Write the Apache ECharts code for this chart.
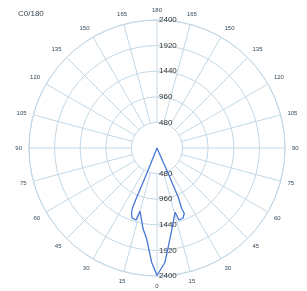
<!DOCTYPE html>
<html>
<head>
<meta charset="utf-8">
<script src="https://cdn.jsdelivr.net/npm/echarts@6/dist/echarts.min.js"></script>
<style>
html, body { margin: 0; padding: 0; background: #fff; }
#main { width: 307px; height: 291px; }
</style>
</head>
<body>
<div id="main"></div>
<script>
var chartTitle = 'C0/180';
var radiusMax = 2400;
var radiusStep = 480;
var angleStep = 15;
// angle from nadir (deg) and intensity, C0 half-plane (right side)
var c0Angles = [0, 4, 8.1, 10.5, 15.7, 17, 20.4, 22.6, 22.2, 23.4, 23.7, 30];
var c0Values = [2390, 2147, 1720, 1541, 1250, 1412, 1400, 1330, 1225, 1005, 528, 0];
// C180 half-plane (left side)
var c180Angles = [0, 2.7, 6.5, 9.8, 15.1, 16.3, 19.7, 21.3, 22.2, 22.4, 21.8, 30];
var c180Values = [2390, 2143, 1713, 1537, 1224, 1406, 1393, 1318, 1225, 998, 520, 0];

var gridColor = '#c2d7e5';
var lineColor = '#4677d6';
var center = [157, 148];
var outerR = 128;

var chart = echarts.init(document.getElementById('main'));

var c0Data = c0Angles.map(function (a, i) { return [c0Values[i], a]; });
var c180Data = c180Angles.map(function (a, i) { return [c180Values[i], 360 - a]; });

function plain(v) { return String(v); }

var option = {
    animation: false,
    title: {
        text: chartTitle,
        left: 13,
        top: 5,
        textStyle: { fontSize: 8, fontWeight: 'normal', color: '#3a4550', fontFamily: 'Liberation Sans' }
    },
    polar: [
        { center: center, radius: outerR },
        { center: center, radius: outerR },
        // spokes start at the first ring
        { center: center, radius: [outerR * radiusStep / radiusMax, outerR] }
    ],
    angleAxis: [{
        polarIndex: 0,
        type: 'value',
        min: 0,
        max: 360,
        interval: angleStep,
        startAngle: 270,
        clockwise: false,
        axisLine: { show: true, lineStyle: { color: gridColor, width: 1 } },
        axisTick: { show: false },
        splitLine: { show: false },
        axisLabel: {
            fontSize: 6,
            margin: 7,
            color: '#34495a',
            fontFamily: 'Liberation Sans',
            formatter: function (v) { return v <= 180 ? v : 360 - v; }
        }
    }, {
        polarIndex: 1,
        type: 'value',
        min: 0,
        max: 360,
        startAngle: 90,
        show: false
    }, {
        polarIndex: 2,
        type: 'value',
        min: 0,
        max: 360,
        interval: angleStep,
        startAngle: 270,
        axisLine: { show: false },
        axisTick: { show: false },
        axisLabel: { show: false },
        splitLine: { show: true, lineStyle: { color: gridColor, width: 1 } }
    }],
    radiusAxis: [{
        polarIndex: 0,
        min: 0,
        max: radiusMax,
        interval: radiusStep,
        axisLine: { show: false },
        axisTick: { show: false },
        splitLine: { show: true, lineStyle: { color: gridColor, width: 1 } },
        axisLabel: {
            showMinLabel: false,
            fontSize: 8,
            margin: 2,
            color: '#333',
            fontFamily: 'Liberation Sans',
            formatter: plain
        }
    }, {
        polarIndex: 1,
        min: 0,
        max: radiusMax,
        interval: radiusStep,
        axisLine: { show: false },
        axisTick: { show: false },
        splitLine: { show: false },
        axisLabel: {
            showMinLabel: false,
            fontSize: 8,
            margin: -2,
            align: 'left',
            verticalAlign: 'middle',
            color: '#333',
            fontFamily: 'Liberation Sans',
            formatter: plain
        }
    }, {
        polarIndex: 2,
        min: 0,
        max: radiusMax,
        show: false
    }],
    series: [{
        type: 'line',
        coordinateSystem: 'polar',
        polarIndex: 0,
        z: 5,
        data: c0Data,
        symbol: 'none',
        lineStyle: { color: lineColor, width: 1.3 }
    }, {
        type: 'line',
        coordinateSystem: 'polar',
        polarIndex: 0,
        z: 5,
        data: c180Data,
        symbol: 'none',
        lineStyle: { color: lineColor, width: 1.3 }
    }]
};
chart.setOption(option);
</script>
</body>
</html>
